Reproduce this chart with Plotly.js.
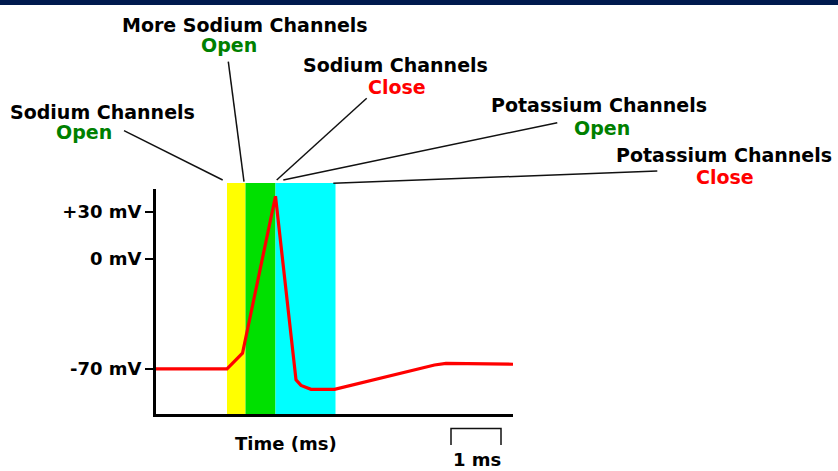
<!DOCTYPE html>
<html>
<head>
<meta charset="utf-8">
<script src="https://cdn.plot.ly/plotly-3.0.1.min.js"></script>
<style>html,body{margin:0;padding:0;background:#fff;}#chart{width:838px;height:471px;}</style>
</head>
<body>
<div id="chart"></div>
<script>
// ---- data ----
var timeMs   = [0, 1.42, 1.73, 2.39, 2.80, 2.90, 3.10, 3.57, 5.57, 5.80, 7.14];
var voltageMv = [-70, -70, -60, 40, -77, -80.5, -83, -83, -67.5, -66.5, -67];

var yTickVals  = [-70, 0, 30];
var yTickText  = ['-70 mV', '0 mV', '+30 mV'];

// channel phases (ms)
var phaseStart = [1.42, 1.79, 2.39];
var phaseEnd   = [1.79, 2.39, 3.59];

// scale bar (ms)
var scaleBarStart = 5.9;
var scaleBarLength = 1;

// labels
var labelTop    = ['Sodium Channels', 'More Sodium Channels', 'Sodium Channels', 'Potassium Channels', 'Potassium Channels'];
var labelBottom = ['Open', 'Open', 'Close', 'Open', 'Close'];

// ---- styles / positions ----
var phaseColors = ['#ffff00', '#00e000', '#00ffff'];
var L = 156, R = 513, T = 189, B = 414, W = 838, H = 471;
function px(x) { return (x - L) / (R - L); }
function py(y) { return (B - y) / (B - T); }

var topPos = [[102, 112], [245, 25], [395, 65], [599, 105], [724, 155]];
var botPos = [[84, 132], [229, 45], [397, 87], [602, 128], [725, 177]];
var leaders = [
  [124, 130.7, 222.7, 180],
  [228.3, 61.7, 244, 181.7],
  [366.7, 98.3, 276.7, 180],
  [557.3, 122.7, 283.3, 180],
  [657.3, 171, 333.3, 183.3]
];
var fontFam = 'DejaVu Sans, Verdana, sans-serif';

var shapes = [];
// top navy bar
shapes.push({type: 'rect', xref: 'paper', yref: 'paper', x0: px(0), x1: px(W), y0: py(0), y1: py(5),
  fillcolor: '#001a4e', line: {width: 0}, layer: 'above'});
// phase bands
for (var i = 0; i < phaseStart.length; i++) {
  shapes.push({type: 'rect', xref: 'x', yref: 'paper', x0: phaseStart[i], x1: phaseEnd[i],
    y0: 0, y1: py(183), fillcolor: phaseColors[i], line: {width: 0}, layer: 'below'});
}
// leader lines
leaders.forEach(function (l) {
  shapes.push({type: 'line', xref: 'paper', yref: 'paper', x0: px(l[0]), y0: py(l[1]), x1: px(l[2]), y1: py(l[3]),
    line: {color: '#111', width: 1.5}});
});
// scale bar bracket
var sb0 = scaleBarStart, sb1 = scaleBarStart + scaleBarLength;
shapes.push({type: 'path', xref: 'x', yref: 'paper',
  path: 'M ' + sb0 + ',' + py(445) + ' L ' + sb0 + ',' + py(428.5) + ' L ' + sb1 + ',' + py(428.5) + ' L ' + sb1 + ',' + py(445),
  line: {color: '#111', width: 1.5}});

var annotations = [];
for (var j = 0; j < labelTop.length; j++) {
  annotations.push({xref: 'paper', yref: 'paper', x: px(topPos[j][0]), y: py(topPos[j][1]),
    xanchor: 'center', yanchor: 'middle', showarrow: false, text: labelTop[j],
    font: {family: fontFam, size: 19, color: '#000', weight: 'bold'}});
  annotations.push({xref: 'paper', yref: 'paper', x: px(botPos[j][0]), y: py(botPos[j][1]),
    xanchor: 'center', yanchor: 'middle', showarrow: false, text: labelBottom[j],
    font: {family: fontFam, size: 19, color: labelBottom[j] === 'Open' ? '#008000' : '#ff0000', weight: 'bold'}});
}
annotations.push({xref: 'paper', yref: 'paper', x: px(285.5), y: py(443), xanchor: 'center', yanchor: 'middle',
  showarrow: false, text: 'Time (ms)', font: {family: fontFam, size: 18, color: '#000', weight: 'bold'}});
annotations.push({xref: 'paper', yref: 'paper', x: px(477), y: py(459), xanchor: 'center', yanchor: 'middle',
  showarrow: false, text: '1 ms', font: {family: fontFam, size: 18, color: '#000', weight: 'bold'}});

var trace = {
  x: timeMs, y: voltageMv, type: 'scatter', mode: 'lines',
  line: {color: '#ff0000', width: 3.2}, hoverinfo: 'skip'
};

var layout = {
  width: W, height: H,
  margin: {l: L, r: W - R, t: T, b: H - B, pad: 0},
  paper_bgcolor: '#ffffff', plot_bgcolor: '#ffffff',
  showlegend: false,
  xaxis: {range: [0, 7.14], showgrid: false, zeroline: false, showline: true, linecolor: '#000', linewidth: 3,
    showticklabels: false, ticks: '', fixedrange: true},
  yaxis: {range: [-98.7, 44.6], showgrid: false, zeroline: false, showline: true, linecolor: '#000', linewidth: 3,
    tickvals: yTickVals, ticktext: yTickText, ticks: 'outside', ticklen: 8, tickwidth: 1.5, tickcolor: '#000',
    tickfont: {family: fontFam, size: 18, color: '#000', weight: 'bold'}, fixedrange: true},
  shapes: shapes,
  annotations: annotations
};

Plotly.newPlot('chart', [trace], layout, {displayModeBar: false, staticPlot: true});
</script>
</body>
</html>
